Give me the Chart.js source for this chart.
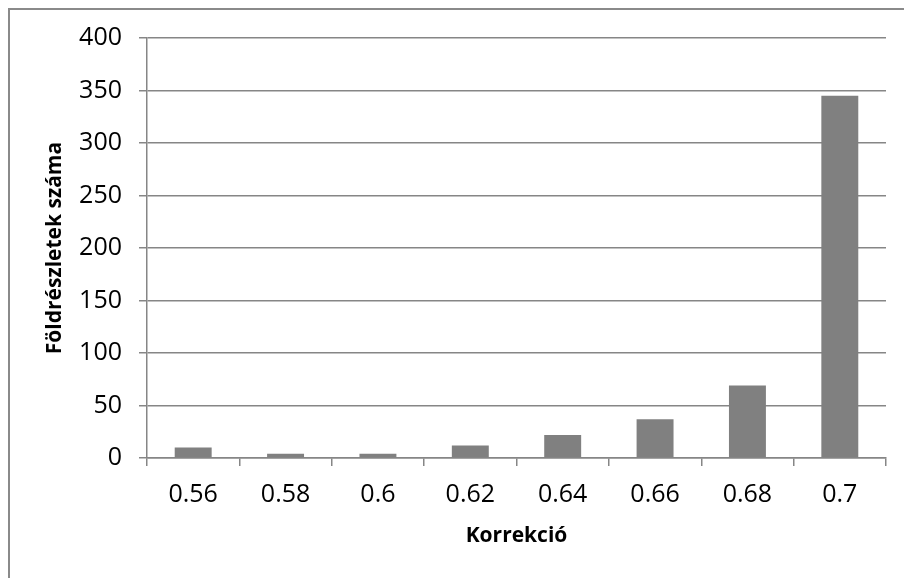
<!DOCTYPE html>
<html>
<head>
<meta charset="utf-8">
<script src="https://cdn.jsdelivr.net/npm/chart.js@4"></script>
<style>
  html, body { margin: 0; padding: 0; background: #fff; }
  #wrap { position: relative; width: 904px; height: 578px; }
</style>
</head>
<body>
<div id="wrap"><canvas id="chart" width="904" height="578"></canvas></div>
<script>
const labels = ['0.56', '0.58', '0.6', '0.62', '0.64', '0.66', '0.68', '0.7'];
const counts = [10, 4, 4, 12, 22, 37, 69, 345];
const yTitle = 'Földrészletek száma';
const xTitle = 'Korrekció';

const GRID = '#868686';
const FONT = "'Open Sans', 'Noto Sans', sans-serif";

// outer frame (only top and left edge are visible in the picture)
const framePlugin = {
  id: 'frame',
  beforeDraw(chart) {
    const { ctx } = chart;
    ctx.save();
    ctx.strokeStyle = '#8a8a8a';
    ctx.lineWidth = 2;
    ctx.beginPath();
    ctx.moveTo(9, 578);
    ctx.lineTo(9, 9);
    ctx.lineTo(904, 9);
    ctx.stroke();
    ctx.restore();
  },
};

new Chart(document.getElementById('chart'), {
  type: 'bar',
  data: {
    labels,
    datasets: [{
      data: counts,
      backgroundColor: '#808080',
      borderWidth: 0,
      barPercentage: 0.4,
      categoryPercentage: 1,
    }],
  },
  options: {
    responsive: false,
    animation: false,
    layout: { padding: { top: 38, right: 18, left: 0, bottom: 0 } },
    plugins: { legend: { display: false }, tooltip: { enabled: false } },
    scales: {
      x: {
        afterFit: (s) => { s.height = 120; },
        grid: { drawOnChartArea: false, drawTicks: true, tickLength: 8, color: GRID, lineWidth: 1.5 },
        border: { color: GRID, width: 1.5 },
        ticks: { color: '#000', font: { family: FONT, size: 25 }, padding: 14, maxRotation: 0 },
        title: { display: true, text: xTitle, color: '#000', font: { family: FONT, size: 21, weight: 'bold' }, padding: { bottom: 29, top: 0 } },
      },
      y: {
        min: 0,
        max: 400,
        afterFit: (s) => { s.width = 147; },
        ticks: { stepSize: 50, color: '#000', font: { family: FONT, size: 25 }, padding: 17 },
        grid: { color: GRID, lineWidth: 1.5, drawTicks: true, tickLength: 8 },
        border: { color: GRID, width: 1.5 },
        title: { display: true, text: yTitle, color: '#000', font: { family: FONT, size: 21, weight: 'bold' }, padding: { top: 42, bottom: 0 } },
      },
    },
  },
  plugins: [framePlugin],
});
</script>
</body>
</html>
